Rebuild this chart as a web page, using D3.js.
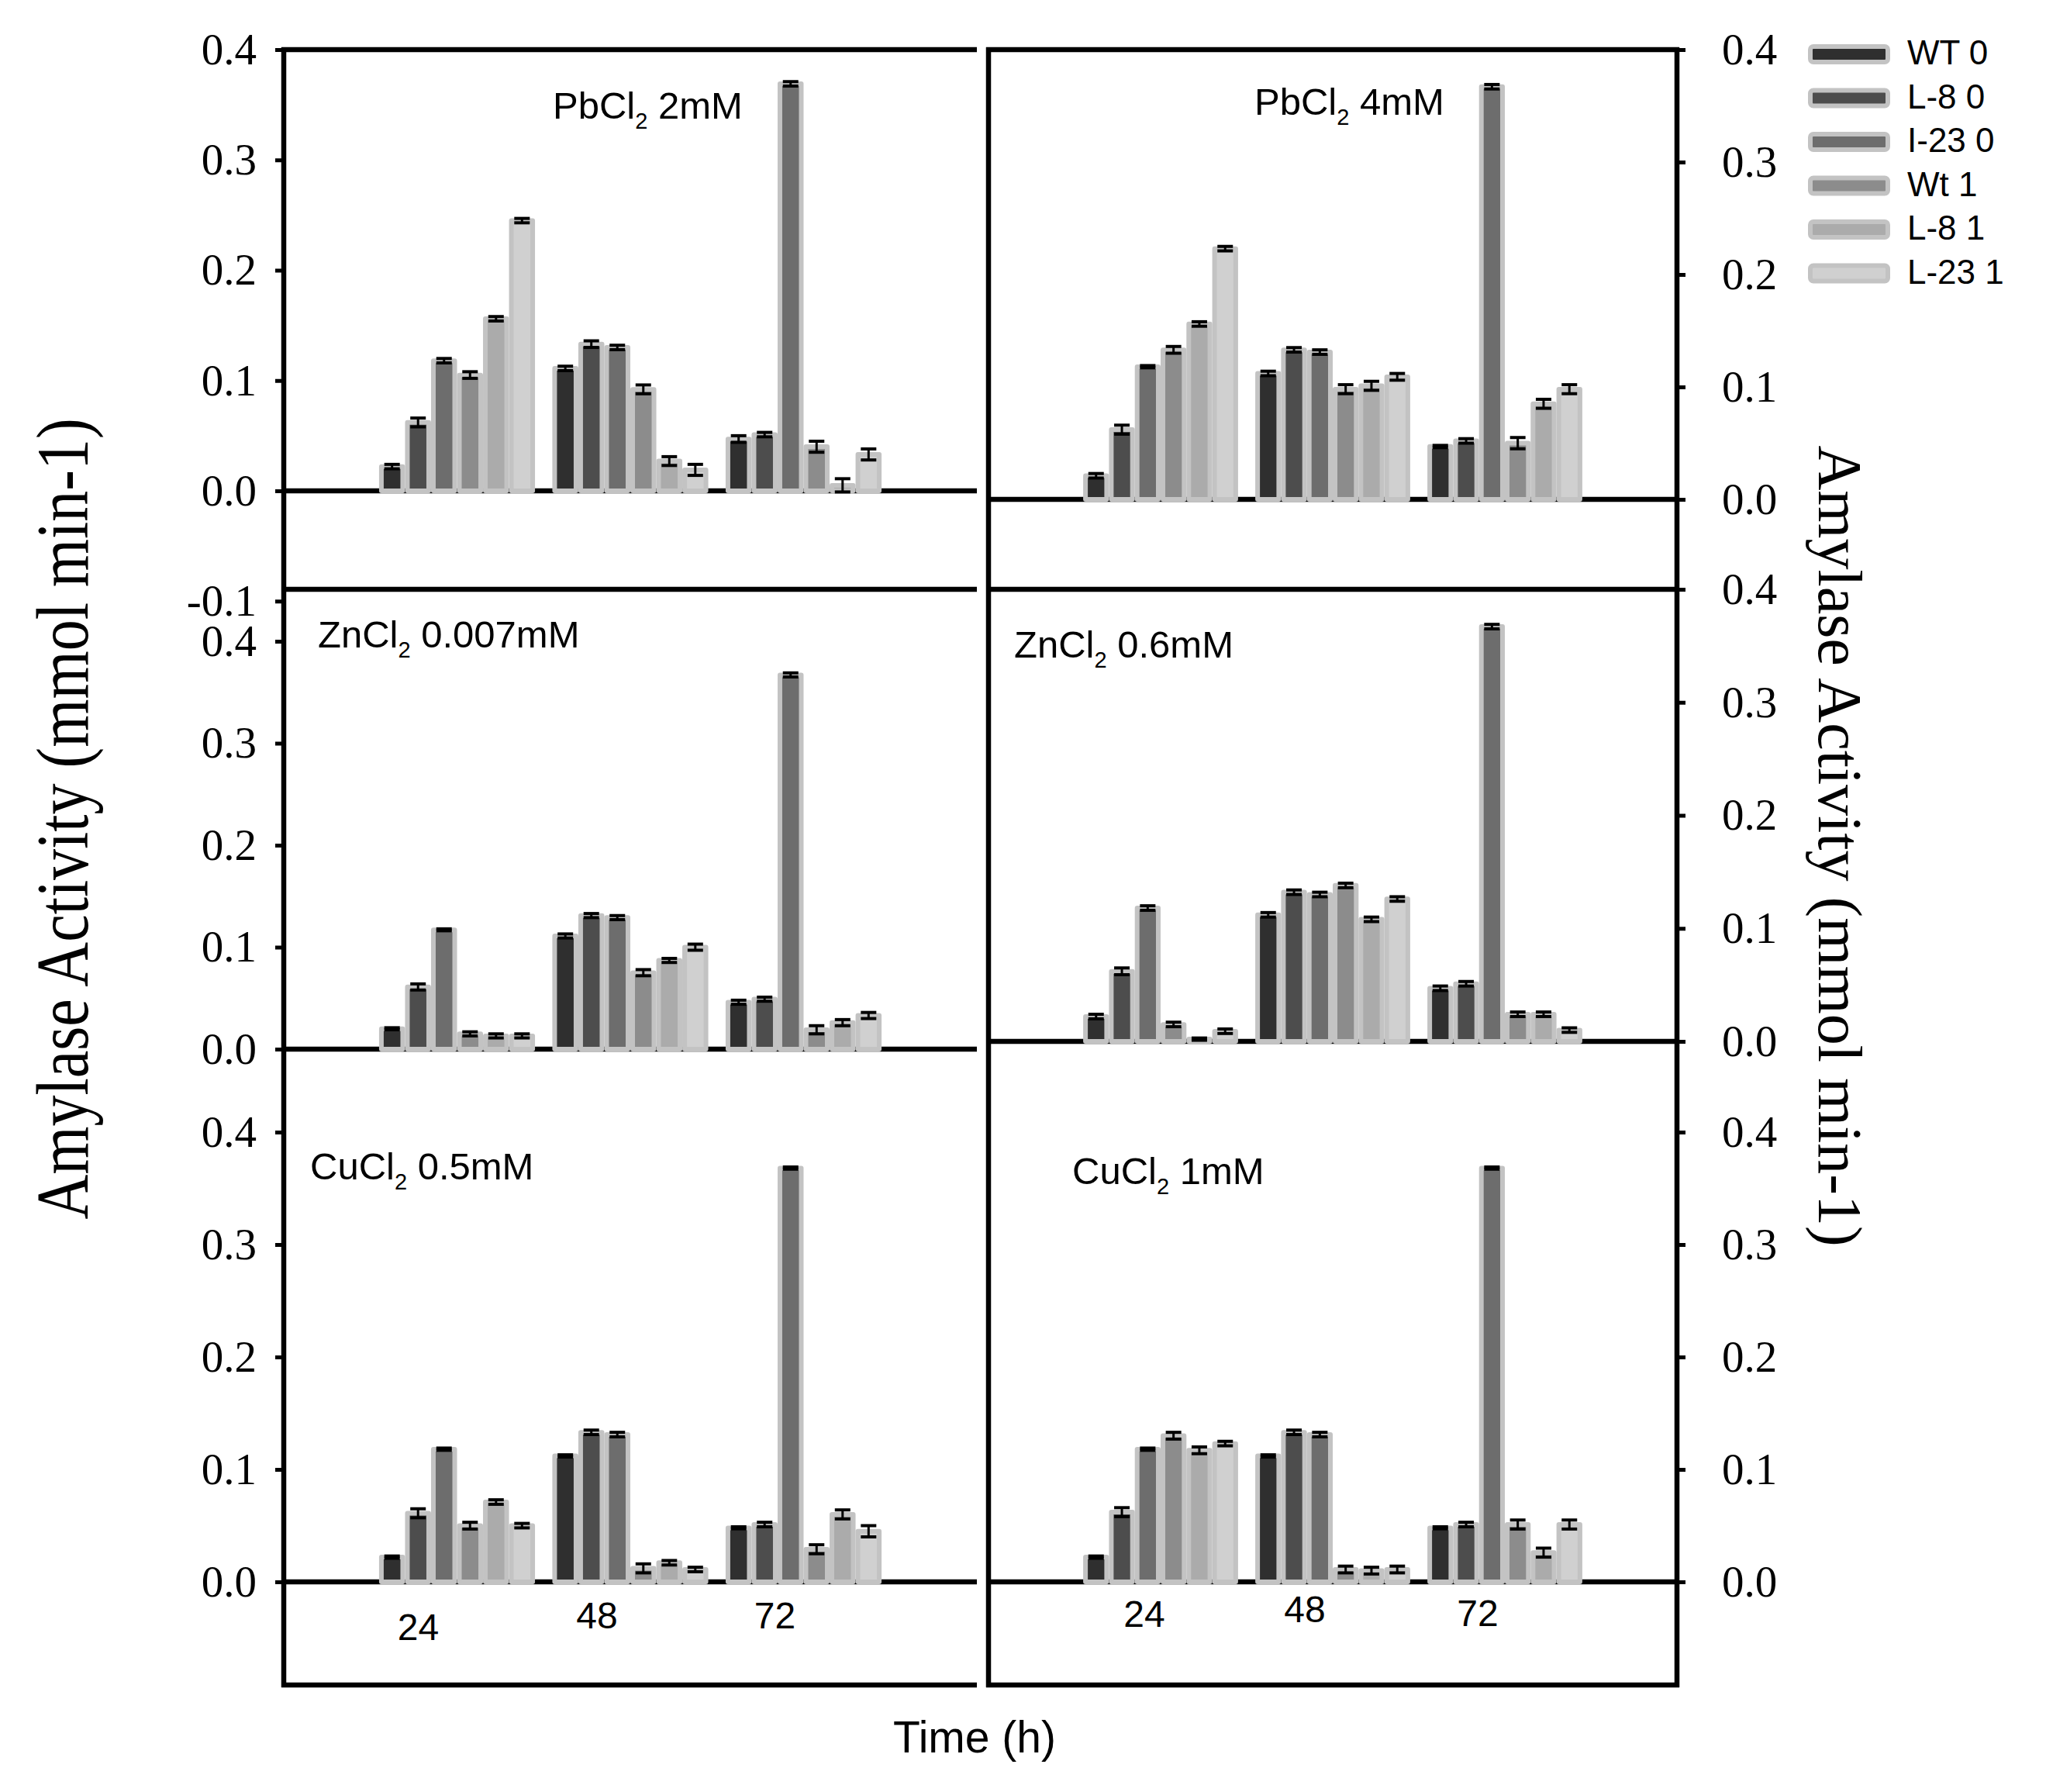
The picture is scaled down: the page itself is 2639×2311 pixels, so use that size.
<!DOCTYPE html>
<html>
<head>
<meta charset="utf-8">
<script src="https://cdn.jsdelivr.net/npm/d3@7"></script>
<style>
  body { margin: 0; background: #fff; }
  svg { display: block; }
</style>
</head>
<body>
<script>
// Sampling times and strains
const hours = [24, 48, 72];
const series = ['WT 0', 'L-8 0', 'I-23 0', 'Wt 1', 'L-8 1', 'L-23 1'];
const seriesColors = ['#2f2f2f', '#4d4d4d', '#6d6d6d', '#8c8c8c', '#ababab', '#d0d0d0'];
const yTicks = [0, 0.1, 0.2, 0.3, 0.4];
const yTicksFirst = [-0.1, 0, 0.1, 0.2, 0.3, 0.4];

// Amylase activity, one row per hour, one column per strain
const pb2Values = [
    [0.022, 0.062, 0.118, 0.105, 0.156, 0.245],
    [0.111, 0.133, 0.130, 0.092, 0.027, 0.019],
    [0.047, 0.051, 0.369, 0.040, 0.005, 0.033]
];
const pb2Errors = [
    [0.002, 0.004, 0.002, 0.003, 0.002, 0.002],
    [0.002, 0.003, 0.002, 0.004, 0.004, 0.005],
    [0.003, 0.002, 0.002, 0.005, 0.006, 0.005]
];
const pb4Values = [
    [0.021, 0.062, 0.118, 0.133, 0.156, 0.223],
    [0.112, 0.133, 0.131, 0.098, 0.101, 0.109],
    [0.047, 0.052, 0.367, 0.050, 0.085, 0.098]
];
const pb4Errors = [
    [0.002, 0.004, 0.001, 0.003, 0.002, 0.002],
    [0.002, 0.002, 0.002, 0.004, 0.004, 0.003],
    [0.001, 0.002, 0.002, 0.005, 0.004, 0.004]
];
const zn007Values = [
    [0.020, 0.061, 0.117, 0.015, 0.013, 0.013],
    [0.111, 0.131, 0.129, 0.075, 0.087, 0.100],
    [0.046, 0.049, 0.367, 0.019, 0.026, 0.033]
];
const zn007Errors = [
    [0.001, 0.003, 0.001, 0.002, 0.002, 0.002],
    [0.002, 0.002, 0.002, 0.003, 0.002, 0.003],
    [0.002, 0.002, 0.002, 0.004, 0.003, 0.003]
];
const zn06Values = [
    [0.022, 0.062, 0.118, 0.015, 0.002, 0.009],
    [0.112, 0.132, 0.130, 0.138, 0.108, 0.126],
    [0.047, 0.051, 0.367, 0.024, 0.024, 0.010]
];
const zn06Errors = [
    [0.002, 0.003, 0.002, 0.002, 0.001, 0.002],
    [0.002, 0.002, 0.002, 0.002, 0.002, 0.002],
    [0.002, 0.002, 0.002, 0.002, 0.002, 0.002]
];
const cu05Values = [
    [0.022, 0.061, 0.118, 0.050, 0.071, 0.050],
    [0.112, 0.133, 0.131, 0.012, 0.017, 0.011],
    [0.048, 0.051, 0.368, 0.029, 0.060, 0.045]
];
const cu05Errors = [
    [0.001, 0.004, 0.001, 0.003, 0.002, 0.002],
    [0.001, 0.002, 0.002, 0.004, 0.002, 0.002],
    [0.001, 0.002, 0.001, 0.004, 0.004, 0.005]
];
const cu1Values = [
    [0.022, 0.062, 0.118, 0.130, 0.117, 0.123],
    [0.112, 0.133, 0.131, 0.011, 0.010, 0.011],
    [0.048, 0.051, 0.368, 0.051, 0.026, 0.051]
];
const cu1Errors = [
    [0.001, 0.004, 0.001, 0.003, 0.003, 0.002],
    [0.001, 0.002, 0.002, 0.003, 0.003, 0.003],
    [0.001, 0.002, 0.001, 0.004, 0.004, 0.004]
];

const width = 2639, height = 2311;
const serif = 'Liberation Serif, Times New Roman, serif';
const sans = 'Liberation Sans, Arial, sans-serif';
const barLine = '#c3c3c3';

// Two columns of panels, the left one has no right border
const columns = {
    left:  { x0: 366, x1: 1260, lines: [64, 633, 760, 1353, 2040, 2173], sides: [366] },
    right: { x0: 1275, x1: 2163, lines: [64, 644, 760, 1343, 2040, 2173], sides: [1275, 2163] }
};

const panels = [
    { col: 'left',  title: ['PbCl', ' 2mM'],    tx: 713,  ty: 153,  values: pb2Values,   errors: pb2Errors,   zero: 633,  top: 64,   ticks: yTicksFirst },
    { col: 'right', title: ['PbCl', ' 4mM'],    tx: 1618, ty: 148,  values: pb4Values,   errors: pb4Errors,   zero: 644,  top: 64,   ticks: yTicks },
    { col: 'left',  title: ['ZnCl', ' 0.007mM'], tx: 410, ty: 835,  values: zn007Values, errors: zn007Errors, zero: 1353, top: 827,  ticks: yTicks },
    { col: 'right', title: ['ZnCl', ' 0.6mM'],  tx: 1308, ty: 848,  values: zn06Values,  errors: zn06Errors,  zero: 1343, top: 760,  ticks: yTicks },
    { col: 'left',  title: ['CuCl', ' 0.5mM'],  tx: 400,  ty: 1521, values: cu05Values,  errors: cu05Errors,  zero: 2040, top: 1460, ticks: yTicks },
    { col: 'right', title: ['CuCl', ' 1mM'],    tx: 1383, ty: 1527, values: cu1Values,   errors: cu1Errors,   zero: 2040, top: 1460, ticks: yTicks }
];

// Hour labels under the bottom panels (hand-placed in the original)
const hourLabelShift = { left: [[-50, 2115], [-43, 2100], [-37, 2100]], right: [[-21, 2098], [-36, 2092], [-35, 2097]] };

const svg = d3.select('body').append('svg')
    .attr('width', width)
    .attr('height', height)
    .style('background', '#fff');

panels.forEach(p => {
    const col = columns[p.col];
    const x = d3.scaleLinear().domain([0, 96]).range([col.x0, col.x1]);
    const y = d3.scaleLinear().domain([0, 0.4]).range([p.zero, p.top]);
    const pitch = x(3.6) - x(0);
    const inner = d3.scaleBand().domain(series).range([-3 * pitch, 3 * pitch]).padding(0);
    const g = svg.append('g');

    const rows = [];
    hours.forEach((h, i) => series.forEach((s, j) => {
        rows.push({ h: h, s: s, j: j, v: p.values[i][j], e: p.errors[i][j] });
    }));

    // bars
    g.selectAll('rect.bar')
        .data(rows)
        .enter().append('rect')
        .attr('class', 'bar')
        .attr('x', d => x(d.h) + inner(d.s) + 3)
        .attr('width', inner.bandwidth() - 6)
        .attr('y', d => y(d.v))
        .attr('height', d => y(0) - y(d.v))
        .attr('fill', d => seriesColors[d.j])
        .attr('stroke', barLine)
        .attr('stroke-width', 6)
        .attr('stroke-linejoin', 'round');

    p.x = x;
    p.y = y;
    p.inner = inner;
    p.rows = rows;
    p.g = g;
});

// frame lines
Object.keys(columns).forEach(k => {
    const col = columns[k];
    col.lines.forEach(ly => {
        svg.append('line')
            .attr('x1', col.x0 - 3).attr('x2', k === 'right' ? col.x1 + 3 : col.x1)
            .attr('y1', ly).attr('y2', ly)
            .attr('stroke', '#000').attr('stroke-width', 6.5);
    });
    col.sides.forEach(sx => {
        svg.append('line')
            .attr('x1', sx).attr('x2', sx)
            .attr('y1', col.lines[0] - 3).attr('y2', col.lines[col.lines.length - 1] + 3)
            .attr('stroke', '#000').attr('stroke-width', 6.5);
    });
});

// axes, error bars and titles
panels.forEach(p => {
    const left = p.col === 'left';
    const axis = (left ? d3.axisLeft(p.y) : d3.axisRight(p.y))
        .tickValues(p.ticks)
        .tickSize(8)
        .tickPadding(left ? 24 : 47)
        .tickFormat(d => d.toFixed(1));

    const ag = svg.append('g')
        .attr('transform', 'translate(' + (left ? columns.left.x0 - 3 : columns.right.x1 + 3) + ',0)')
        .call(axis);
    ag.select('.domain').remove();
    ag.selectAll('.tick line').attr('stroke', '#000').attr('stroke-width', 5);
    ag.selectAll('.tick text')
        .attr('fill', '#000')
        .style('font-family', serif)
        .style('font-size', '57px');

    const eg = p.g.append('g');
    const cx = d => p.x(d.h) + p.inner(d.s) + p.inner.bandwidth() / 2;
    eg.selectAll('line.stem')
        .data(p.rows)
        .enter().append('line')
        .attr('x1', cx).attr('x2', cx)
        .attr('y1', d => p.y(d.v - d.e)).attr('y2', d => p.y(d.v + d.e))
        .attr('stroke', '#000').attr('stroke-width', 3);
    [-1, 1].forEach(sign => {
        eg.selectAll('line.cap' + sign)
            .data(p.rows)
            .enter().append('line')
            .attr('x1', d => cx(d) - 10).attr('x2', d => cx(d) + 10)
            .attr('y1', d => p.y(d.v + sign * d.e)).attr('y2', d => p.y(d.v + sign * d.e))
            .attr('stroke', '#000').attr('stroke-width', 4);
    });

    const t = svg.append('text')
        .attr('x', p.tx).attr('y', p.ty)
        .style('font-family', sans)
        .style('font-size', '49px')
        .attr('fill', '#000');
    t.append('tspan').text(p.title[0]);
    t.append('tspan').attr('dy', 13).style('font-size', '29px').text('2');
    t.append('tspan').attr('dy', -13).text(p.title[1]);
});

// keep error bars above the frame lines
panels.forEach(p => p.g.raise());

// hour labels under the bottom row
['left', 'right'].forEach(k => {
    const col = columns[k];
    const x = d3.scaleLinear().domain([0, 96]).range([col.x0, col.x1]);
    svg.selectAll(null)
        .data(hours)
        .enter().append('text')
        .attr('x', (d, i) => x(d) + hourLabelShift[k][i][0])
        .attr('y', (d, i) => hourLabelShift[k][i][1])
        .attr('text-anchor', 'middle')
        .style('font-family', sans)
        .style('font-size', '48px')
        .text(d => d);
});

// axis titles
svg.append('text')
    .attr('transform', 'translate(1257,2260)')
    .attr('text-anchor', 'middle')
    .style('font-family', sans)
    .style('font-size', '57px')
    .text('Time (h)');

svg.append('text')
    .attr('transform', 'translate(113,1056) rotate(-90) scale(1,1.2)')
    .attr('text-anchor', 'middle')
    .style('font-family', serif)
    .style('font-size', '80px')
    .text('Amylase Activity (mmol min-1)');

svg.append('text')
    .attr('transform', 'translate(2346,1091) rotate(90)')
    .attr('text-anchor', 'middle')
    .style('font-family', serif)
    .style('font-size', '80px')
    .text('Amylase Activity (mmol min-1)');

// legend
const legend = svg.append('g').attr('transform', 'translate(2335,70)');
const item = legend.selectAll('g')
    .data(series)
    .enter().append('g')
    .attr('transform', (d, i) => 'translate(0,' + i * 56.5 + ')');
item.append('rect')
    .attr('x', 0).attr('y', -10)
    .attr('width', 100).attr('height', 20)
    .attr('rx', 4)
    .attr('fill', (d, i) => seriesColors[i])
    .attr('stroke', barLine)
    .attr('stroke-width', 6);
item.append('text')
    .attr('x', 125).attr('y', 13)
    .style('font-family', sans)
    .style('font-size', '44px')
    .text(d => d);
</script>
</body>
</html>
